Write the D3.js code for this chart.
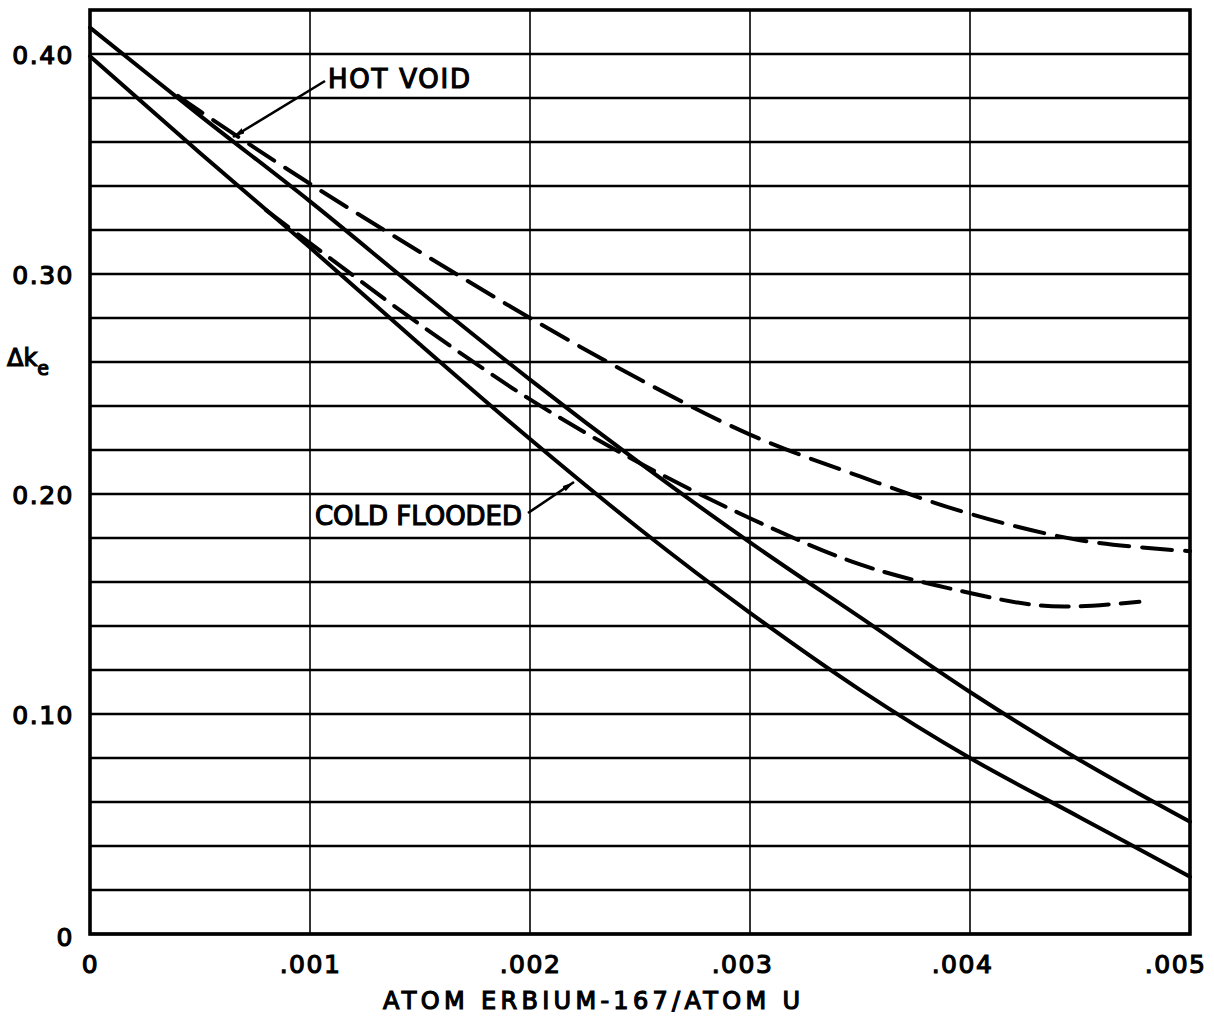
<!DOCTYPE html>
<html>
<head>
<meta charset="utf-8">
<script src="https://cdn.jsdelivr.net/npm/d3@7"></script>
<style>
  body { margin: 0; background: #fff; }
  svg { display: block; }
  text { font-family: "DejaVu Sans", sans-serif; fill: #000; stroke: #000; stroke-width: 1.2px; }
</style>
</head>
<body>
<svg width="1214" height="1016"></svg>
<script>
// values (delta k_e vs atom Er-167 / atom U)
const xs = [0, 0.0005, 0.001, 0.0015, 0.002, 0.0025, 0.003, 0.0035, 0.004, 0.0045, 0.005];
const solidUpper = [0.412, 0.372, 0.333, 0.292, 0.252, 0.214, 0.178, 0.144, 0.110, 0.079, 0.051];
const solidLower = [0.399, 0.355, 0.312, 0.268, 0.225, 0.184, 0.146, 0.111, 0.080, 0.053, 0.026];

const dashUpperX = [0.0004, 0.0005, 0.001, 0.0015, 0.002, 0.0025, 0.003, 0.0035, 0.004, 0.0045, 0.005];
const dashUpper = [0.381, 0.374, 0.341, 0.310, 0.280, 0.252, 0.227, 0.208, 0.191, 0.179, 0.174];

const dashLowerX = [0.0008, 0.001, 0.0015, 0.002, 0.0025, 0.003, 0.0035, 0.004, 0.0043, 0.0045, 0.00477];
const dashLower = [0.329, 0.314, 0.277, 0.243, 0.214, 0.189, 0.168, 0.155, 0.1495, 0.149, 0.151];

const xTicks = [0, 0.001, 0.002, 0.003, 0.004, 0.005];
const xTickLabels = ["0", ".001", ".002", ".003", ".004", ".005"];
const yTicks = [0, 0.1, 0.2, 0.3, 0.4];
const yTickLabels = ["0", "0.10", "0.20", "0.30", "0.40"];
const yGrid = d3.range(0, 21).map(i => i * 0.02);

const xTitle = "ATOM  ERBIUM-167/ATOM  U";
const notes = ["HOT  VOID", "COLD FLOODED"];

let sv = d3.select("svg");

const x = d3.scaleLinear().domain([0, 0.005]).range([90, 1190]);
const y = d3.scaleLinear().domain([0, 0.42]).range([934, 10]);

// grid
sv.append("g").selectAll("line")
    .data(yGrid)
    .enter()
    .append("line")
    .attr("x1", x(0)).attr("x2", x(0.005))
    .attr("y1", d => y(d)).attr("y2", d => y(d))
    .attr("stroke", "#000")
    .attr("stroke-width", 2.6);

sv.append("g").selectAll("line")
    .data(xTicks)
    .enter()
    .append("line")
    .attr("x1", d => x(d)).attr("x2", d => x(d))
    .attr("y1", y(0)).attr("y2", y(0.42))
    .attr("stroke", "#000")
    .attr("stroke-width", 1.6);

// frame
sv.append("rect")
    .attr("x", x(0)).attr("y", y(0.42))
    .attr("width", x(0.005) - x(0))
    .attr("height", y(0) - y(0.42))
    .attr("fill", "none")
    .attr("stroke", "#000")
    .attr("stroke-width", 3.6);

// axes (labels only, the frame already draws the lines)
let xa = sv.append("g")
    .attr("transform", "translate(0," + (y(0) + 18) + ")")
    .call(d3.axisBottom(x).tickValues(xTicks).tickSize(0)
        .tickFormat((d, i) => xTickLabels[i]));
xa.select(".domain").remove();
xa.selectAll("text")
    .attr("font-size", 25)
    .attr("font-family", null)
    .attr("fill", null)
    .attr("letter-spacing", 1.5)
    .attr("text-anchor", (d, i) => i === xTicks.length - 1 ? "end" : "middle")
    .attr("dx", (d, i) => i === xTicks.length - 1 ? 16 : (i >= 3 ? -8 : 0));

let ya = sv.append("g")
    .attr("transform", "translate(74,0)")
    .call(d3.axisLeft(y).tickValues(yTicks).tickSize(0)
        .tickFormat((d, i) => yTickLabels[i]));
ya.select(".domain").remove();
ya.selectAll("text")
    .attr("font-size", 25)
    .attr("font-family", null)
    .attr("fill", null)
    .attr("letter-spacing", 1.5)
    .attr("x", 0)
    .attr("dy", (d, i) => i === 0 ? "0.45em" : "0.38em");

// titles
sv.append("text")
    .attr("x", 383).attr("y", 1009)
    .attr("font-size", 24)
    .attr("textLength", 417)
    .attr("lengthAdjust", "spacing")
    .text(xTitle);

let yl = sv.append("text")
    .attr("x", 7).attr("y", 366)
    .attr("font-size", 24);
yl.append("tspan").text("\u0394k");
yl.append("tspan").attr("dy", 9).attr("font-size", 19).text("e");

// curves
const ln = d3.line()
    .x(d => x(d[0]))
    .y(d => y(d[1]))
    .curve(d3.curveCatmullRom.alpha(0.5));

const series = [
    { px: xs, py: solidUpper, dash: null },
    { px: xs, py: solidLower, dash: null },
    { px: dashUpperX, py: dashUpper, dash: "30 13" },
    { px: dashLowerX, py: dashLower, dash: "28 12" }
];

sv.append("g").selectAll("path")
    .data(series)
    .enter()
    .append("path")
    .attr("d", s => ln(s.px.map((v, i) => [v, s.py[i]])))
    .attr("fill", "none")
    .attr("stroke", "#000")
    .attr("stroke-width", 4)
    .attr("stroke-linecap", "round")
    .attr("stroke-dasharray", s => s.dash);

// annotations with arrows
sv.append("defs").append("marker")
    .attr("id", "ah")
    .attr("viewBox", "0 0 12 6")
    .attr("refX", 12).attr("refY", 3)
    .attr("markerWidth", 12).attr("markerHeight", 6)
    .attr("markerUnits", "userSpaceOnUse")
    .attr("orient", "auto")
    .append("path")
    .attr("d", "M0,0 L12,3 L0,6 Z")
    .attr("fill", "#000");

sv.append("path")
    .attr("d", "M325,81 L233,137")
    .attr("stroke", "#000").attr("stroke-width", 2.6)
    .attr("fill", "none")
    .attr("marker-end", "url(#ah)");

sv.append("path")
    .attr("d", "M528,513 L574,482")
    .attr("stroke", "#000").attr("stroke-width", 2.6)
    .attr("fill", "none")
    .attr("marker-end", "url(#ah)");

sv.append("rect")
    .attr("x", 312).attr("y", 500).attr("width", 212).attr("height", 30)
    .attr("fill", "#fff");

sv.append("text")
    .attr("x", 328).attr("y", 88)
    .attr("font-size", 26)
    .attr("textLength", 142)
    .attr("lengthAdjust", "spacing")
    .text(notes[0]);

sv.append("text")
    .attr("x", 315).attr("y", 525)
    .attr("font-size", 26)
    .attr("textLength", 207)
    .attr("lengthAdjust", "spacing")
    .text(notes[1]);
</script>
</body>
</html>
